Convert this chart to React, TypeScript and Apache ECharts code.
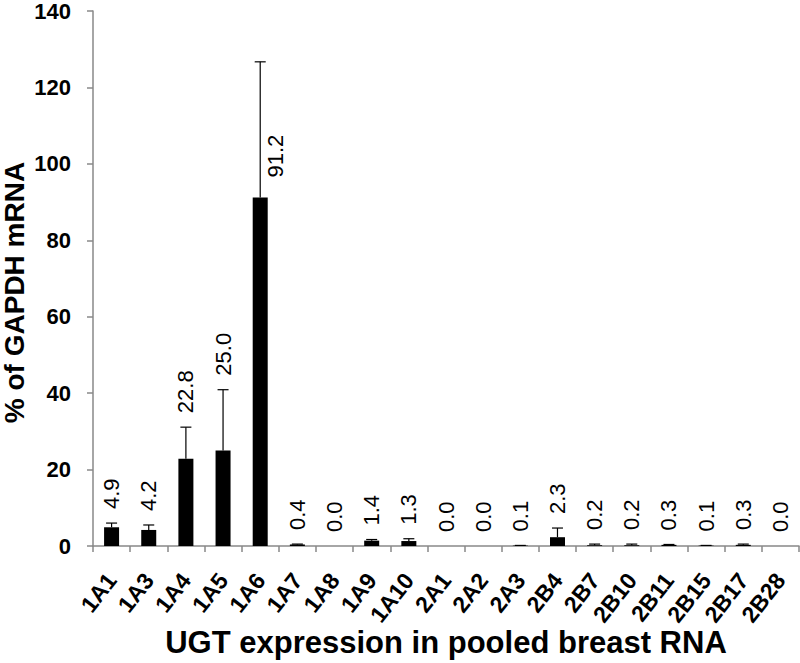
import React, { useEffect, useRef } from "react";
import * as echarts from "echarts";

const categories = ["1A1", "1A3", "1A4", "1A5", "1A6", "1A7", "1A8", "1A9", "1A10", "2A1", "2A2", "2A3", "2B4", "2B7", "2B10", "2B11", "2B15", "2B17", "2B28"];
const values = [4.9, 4.2, 22.8, 25.0, 91.2, 0.4, 0.0, 1.4, 1.3, 0.0, 0.0, 0.1, 2.3, 0.2, 0.2, 0.3, 0.1, 0.3, 0.0];
const errors = [1.1, 1.3, 8.3, 15.9, 35.5, 0.1, 0.0, 0.3, 0.6, 0.0, 0.0, 0.05, 2.4, 0.3, 0.3, 0.1, 0.05, 0.2, 0.0];
const yTicks = { min: 0, max: 140, interval: 20 };
const besideLabel = ["1A6"];

const FONT = '"Liberation Sans", Arial, sans-serif';

export default function App() {
  const ref = useRef<HTMLDivElement>(null);
  useEffect(() => {
    if (!ref.current) return;
    const chart = echarts.init(ref.current, null, { renderer: "svg" });
    const errData = categories.map((c, i) => [i, values[i], errors[i]]);
    chart.setOption({
      animation: false,
      backgroundColor: "#fff",
      grid: { left: 93, right: 1, top: 11, bottom: 117, containLabel: false, outerBoundsMode: "none" },
      xAxis: {
        type: "category",
        data: categories,
        name: "UGT expression in pooled breast RNA",
        nameLocation: "middle",
        nameGap: 81,
        nameMoveOverlap: false,
        nameTextStyle: { fontFamily: FONT, fontWeight: "bold", fontSize: 31, color: "#000" },
        axisLine: { lineStyle: { color: "#888", width: 1.5 } },
        axisTick: { show: true, length: 6, lineStyle: { color: "#888", width: 1.5 } },
        axisLabel: {
          interval: 0,
          rotate: 52,
          margin: 30,
          fontFamily: FONT,
          fontWeight: "bold",
          fontSize: 23,
          color: "#000",
        },
        splitLine: { show: false },
      },
      yAxis: {
        type: "value",
        min: yTicks.min,
        max: yTicks.max,
        interval: yTicks.interval,
        name: "% of GAPDH mRNA",
        nameLocation: "middle",
        nameGap: 65,
        nameMoveOverlap: false,
        nameTextStyle: { fontFamily: FONT, fontWeight: "bold", fontSize: 28, color: "#000", padding: [0, 28, 0, 0] },
        axisLine: { show: true, lineStyle: { color: "#888", width: 1.5 } },
        axisTick: { show: true, length: 6, lineStyle: { color: "#888", width: 1.5 } },
        axisLabel: { margin: 22, fontFamily: FONT, fontWeight: "bold", fontSize: 22, color: "#000" },
        splitLine: { show: false },
      },
      series: [
        {
          type: "bar",
          data: values,
          barWidth: 15,
          itemStyle: { color: "#000" },
        },
        {
          type: "custom",
          data: errData,
          z: 5,
          renderItem: (params: any, api: any) => {
            const i = api.value(0);
            const v = api.value(1);
            const e = api.value(2);
            const base = api.coord([i, v]);
            const top = api.coord([i, v + e]);
            const children: any[] = [];
            if (e > 0) {
              children.push({
                type: "line",
                shape: { x1: base[0], y1: base[1], x2: top[0], y2: top[1] },
                style: { stroke: "#000", lineWidth: 1.2 },
              });
              children.push({
                type: "line",
                shape: { x1: top[0] - 5.5, y1: top[1], x2: top[0] + 5.5, y2: top[1] },
                style: { stroke: "#000", lineWidth: 1.2 },
              });
            }
            const beside = besideLabel.indexOf(categories[i]) >= 0;
            const lx = beside ? base[0] + 15 : top[0];
            const ly = beside ? base[1] - 20 : top[1] - 14;
            children.push({
              type: "text",
              x: lx,
              y: ly,
              rotation: Math.PI / 2,
              style: {
                text: v.toFixed(1),
                fontFamily: FONT,
                fontSize: 22,
                fill: "#000",
                align: "left",
                verticalAlign: "middle",
              },
            });
            return { type: "group", children };
          },
        },
      ],
    });
    return () => chart.dispose();
  }, []);
  return <div ref={ref} style={{ position: "fixed", left: 0, top: 0, width: 800, height: 663 }} />;
}
